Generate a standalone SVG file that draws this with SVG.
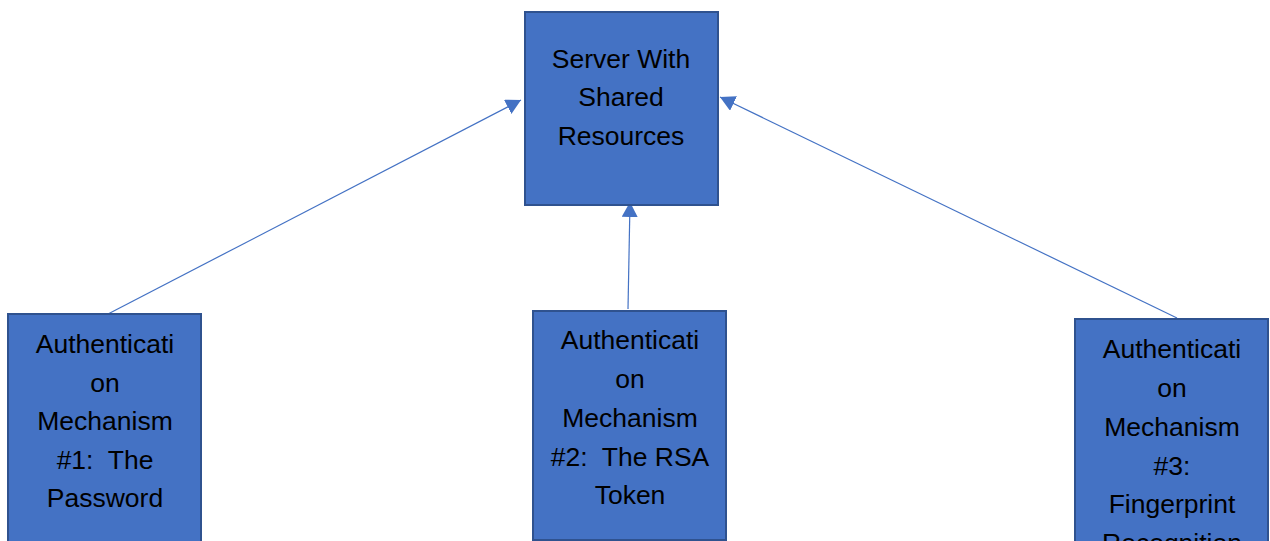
<svg xmlns="http://www.w3.org/2000/svg" width="1270" height="541" viewBox="0 0 1270 541">
  <style>
    .box { fill: #4472C4; stroke: #2F528F; stroke-width: 2; }
    .lbl { font-family: "Liberation Sans", Arial, sans-serif; font-size: 26.5px; fill: #000; text-anchor: middle; }
    .edge { stroke: #4472C4; stroke-width: 1.2; fill: none; marker-end: url(#arrow); }
  </style>
  <defs>
    <marker id="arrow" markerUnits="userSpaceOnUse" markerWidth="16" markerHeight="16" refX="15" refY="8" orient="auto">
      <path d="M0,0 L15,8 L0,16 z" fill="#4472C4"/>
    </marker>
  </defs>
  <rect width="1270" height="541" fill="#FFFFFF"/>

  <g id="connectors">
    <line class="edge" x1="108" y1="314" x2="521" y2="100"/>
    <line class="edge" x1="628" y1="309" x2="630" y2="202"/>
    <line class="edge" x1="1177" y1="318" x2="720" y2="97"/>
  </g>

  <g id="server">
    <rect class="box" x="525" y="12" width="193" height="193"/>
    <text class="lbl" x="621" y="68">Server With</text>
    <text class="lbl" x="621" y="106">Shared</text>
    <text class="lbl" x="621" y="145">Resources</text>
  </g>

  <g id="auth-password">
    <rect class="box" x="8" y="314" width="193" height="240"/>
    <text class="lbl" x="105" y="353">Authenticati</text>
    <text class="lbl" x="105" y="392">on</text>
    <text class="lbl" x="105" y="430">Mechanism</text>
    <text class="lbl" x="105" y="469" xml:space="preserve">#1:  The</text>
    <text class="lbl" x="105" y="507">Password</text>
  </g>

  <g id="auth-rsa-token">
    <rect class="box" x="533" y="311" width="193" height="229"/>
    <text class="lbl" x="630" y="349">Authenticati</text>
    <text class="lbl" x="630" y="388">on</text>
    <text class="lbl" x="630" y="427">Mechanism</text>
    <text class="lbl" x="630" y="466" xml:space="preserve">#2:  The RSA</text>
    <text class="lbl" x="630" y="504">Token</text>
  </g>

  <g id="auth-fingerprint">
    <rect class="box" x="1075" y="319" width="193" height="240"/>
    <text class="lbl" x="1172" y="358">Authenticati</text>
    <text class="lbl" x="1172" y="397">on</text>
    <text class="lbl" x="1172" y="436">Mechanism</text>
    <text class="lbl" x="1172" y="475">#3:</text>
    <text class="lbl" x="1172" y="513">Fingerprint</text>
    <text class="lbl" x="1172" y="552">Recognition</text>
  </g>
</svg>
